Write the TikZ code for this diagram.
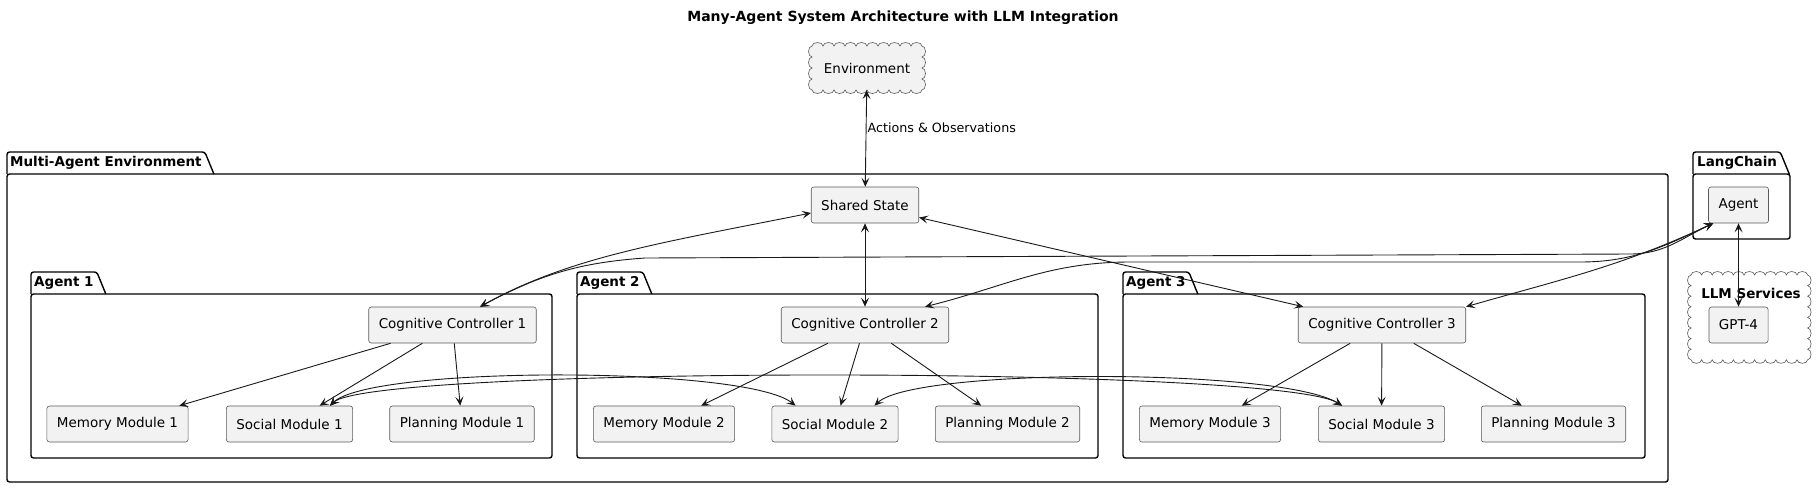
\documentclass[tikz,border=0pt]{standalone}
\usepackage{fontspec}
\setmainfont{DejaVu Sans}
\usetikzlibrary{arrows.meta, positioning}

\newcommand{\umlfont}{\fontsize{13.5}{16}\selectfont}

\begin{document}
\begin{tikzpicture}[x=1pt, y=-1pt,
    module/.style={draw=black!65, fill=black!5, line width=0.6pt, rounded corners=2.5pt,
      minimum height=36pt, inner xsep=10pt, font=\umlfont},
    pkgframe/.style={draw=black, line width=1.4pt, rounded corners=2.5pt},
    pkglabel/.style={font=\umlfont\bfseries, inner sep=0pt, anchor=west},
    cloudline/.style={draw=black!65, line width=0.6pt},
    umltip/.tip={Stealth[length=9pt, width=8pt, inset=4pt]},
    twoway/.style={draw=black!90, line width=0.9pt, umltip-umltip},
    oneway/.style={draw=black!90, line width=0.9pt, -umltip}]
    \useasboundingbox (0,0) rectangle (1818,488);

    % Title
    \node[font=\fontsize{14}{16}\selectfont\bfseries] (title) at (903,18)
        {Many-Agent System Architecture with LLM Integration};

    % Packages
    \node[pkglabel] (maeTab) at (10,163) {Multi-Agent Environment};
    \draw[pkgframe] (7,174) |- ([shift={(3pt,11pt)}]maeTab.east) -- ++(9,22);
    \draw[pkgframe] (7,174) rectangle (1668,482);

    \foreach \n/\xl/\xr in {1/31/552, 2/577/1098, 3/1123/1645} {
        \node[pkglabel] (tab\n) at (\xl+3,283) {Agent \n};
        \draw[pkgframe] (\xl,294) |- ([shift={(3pt,11pt)}]tab\n.east) -- ++(9,22);
        \draw[pkgframe] (\xl,294) rectangle (\xr,458);
    }

    \node[pkglabel] (lcTab) at (1697,163) {LangChain};
    \draw[pkgframe] (1693,174) |- ([shift={(3pt,11pt)}]lcTab.east) -- ++(9,22);
    \draw[pkgframe] (1693,174) rectangle (1790,239);

    % Clouds
    \filldraw[cloudline, fill=black!5] (812,46)
        foreach \k in {1,...,10} {arc[start angle=180, end angle=0, x radius=5.5pt, y radius=3.5pt]}
        foreach \k in {1,...,4} {arc[start angle=90, end angle=-90, x radius=3.5pt, y radius=5.5pt]}
        foreach \k in {1,...,10} {arc[start angle=0, end angle=-180, x radius=5.5pt, y radius=3.5pt]}
        foreach \k in {1,...,4} {arc[start angle=-90, end angle=-270, x radius=3.5pt, y radius=5.5pt]}
        -- cycle;
    \node[minimum width=110pt, minimum height=44pt, font=\umlfont] (env) at (867,68) {Environment};

    \filldraw[cloudline, fill=white] (1691,275)
        foreach \k in {1,...,11} {arc[start angle=180, end angle=0, x radius=5.3pt, y radius=3.5pt]}
        foreach \k in {1,...,8} {arc[start angle=90, end angle=-90, x radius=3.5pt, y radius=5.3pt]}
        foreach \k in {1,...,11} {arc[start angle=0, end angle=-180, x radius=5.3pt, y radius=3.5pt]}
        foreach \k in {1,...,8} {arc[start angle=-90, end angle=-270, x radius=3.5pt, y radius=5.3pt]}
        -- cycle;
    \node[font=\umlfont\bfseries, inner sep=0pt] (llmLbl) at (1751,293) {LLM Services};

    % Components
    \node[module] (shared) at (865,205) {Shared State};
    \node[module] (lcagent) at (1738.5,205) {Agent};
    \node[module] (gpt) at (1738.5,325) {GPT-4};

    \node[module] (cc1) at (452.5,325) {Cognitive Controller 1};
    \node[module] (mem1) at (117.5,424) {Memory Module 1};
    \node[module] (soc1) at (289.5,424) {Social Module 1};
    \node[module] (plan1) at (462,424) {Planning Module 1};

    \node[module] (cc2) at (865,325) {Cognitive Controller 2};
    \node[module] (mem2) at (664,424) {Memory Module 2};
    \node[module] (soc2) at (835,424) {Social Module 2};
    \node[module] (plan2) at (1007.5,424) {Planning Module 2};

    \node[module] (cc3) at (1382,325) {Cognitive Controller 3};
    \node[module] (mem3) at (1210,424) {Memory Module 3};
    \node[module] (soc3) at (1381.5,424) {Social Module 3};
    \node[module] (plan3) at (1553.5,424) {Planning Module 3};

    % Environment and shared state
    \draw[twoway] (env) -- (shared)
        node[pos=0.39, right, inner sep=1pt, font=\fontsize{12.7}{15}\selectfont] (actLbl) {Actions \& Observations};
    \draw[twoway] ([yshift=-8pt]shared.west) .. controls +(-150,30) and +(90,-50) .. ([xshift=27.5pt]cc1.north);
    \draw[twoway] (shared) -- (cc2);
    \draw[twoway] (shared) -- (cc3);

    % LangChain agent to the controllers
    \coordinate (busA) at (1630,254);
    \coordinate (busB) at (645,258);
    \coordinate (busC) at (1580,262);
    \coordinate (busD) at (1130,262);
    \draw[twoway] ([xshift=5pt]lcagent.south west) to[out=205, in=0] (busA) -- (busB)
        to[out=184, in=28] ([xshift=27.5pt]cc1.north);
    \draw[twoway] ([xshift=5pt]lcagent.south west) to[out=205, in=0] (busC) -- (busD)
        to[out=180, in=14] ([xshift=-24pt]cc2.north east);
    \draw[twoway] ([xshift=5pt]lcagent.south west) to[out=205, in=16] (cc3.north east);
    \draw[twoway] (lcagent) -- (gpt);

    % Controllers to modules
    \foreach \i in {1,2,3} {
        \draw[oneway] (cc\i) -- (mem\i);
        \draw[oneway] (cc\i) -- (soc\i);
        \draw[oneway] (cc\i) -- (plan\i);
    }

    % Social links
    \draw[twoway] ([xshift=40.5pt]soc1.north) .. controls +(40,-40) and +(-50,-40) .. ([xshift=24pt]soc2.north west);
    \draw[twoway] ([xshift=40.5pt]soc1.north) .. controls +(40,-40) and +(-60,-40) .. ([xshift=24pt]soc3.north west);
    \draw[twoway] ([xshift=-24pt]soc2.north east) .. controls +(40,-38) and +(-60,-38) .. ([xshift=24pt]soc3.north west);
\end{tikzpicture}
\end{document}
